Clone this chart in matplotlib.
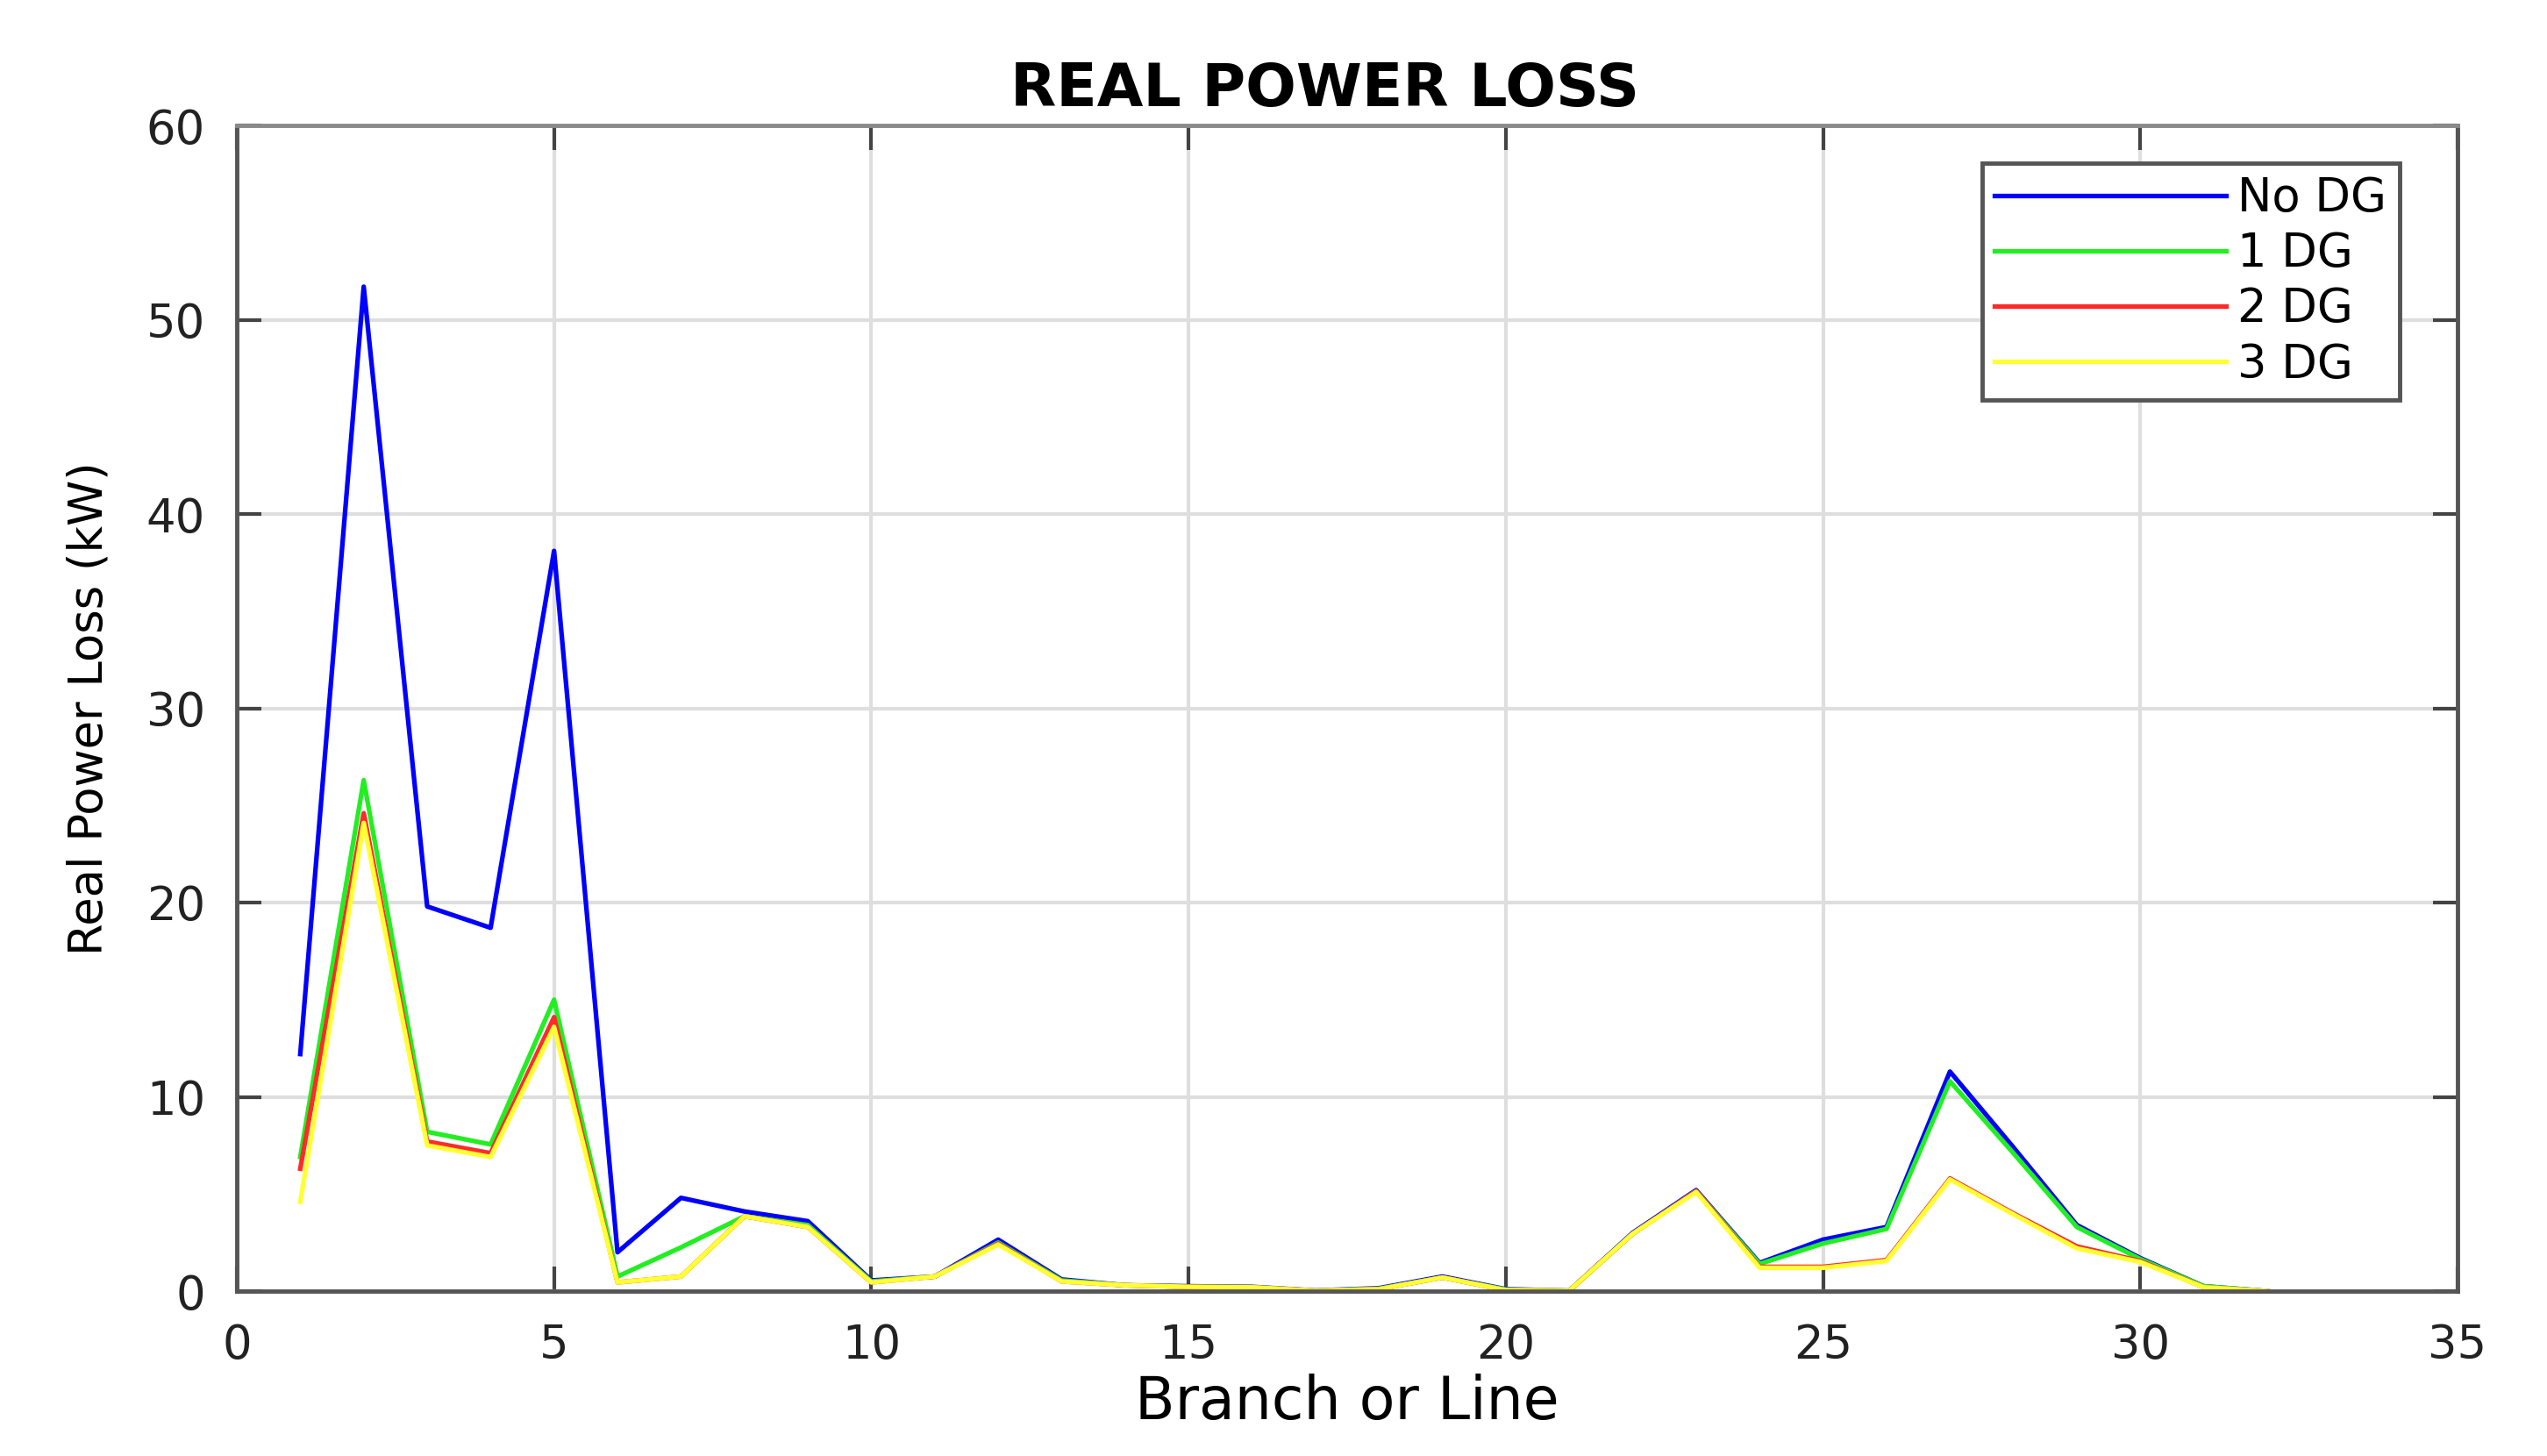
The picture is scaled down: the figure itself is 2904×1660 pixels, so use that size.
import numpy as np
import matplotlib
matplotlib.use("Agg")
import matplotlib.pyplot as plt

# branch numbers and real power loss (kW)
branch = np.arange(1, 33)
no_dg = [12.2, 51.7, 19.8, 18.7, 38.1, 2.0, 4.8, 4.1, 3.6, 0.55, 0.75, 2.65, 0.6, 0.3, 0.25, 0.22,
         0.03, 0.15, 0.75, 0.1, 0.02, 3.0, 5.2, 1.45, 2.65, 3.3, 11.3, 7.4, 3.4, 1.7, 0.25, 0.0]
one_dg = [6.9, 26.3, 8.2, 7.55, 15.0, 0.75, 2.25, 3.85, 3.4, 0.5, 0.75, 2.5, 0.55, 0.3, 0.22, 0.2,
          0.02, 0.12, 0.7, 0.08, 0.02, 2.95, 5.15, 1.4, 2.45, 3.2, 10.8, 7.1, 3.3, 1.65, 0.25, 0.0]
two_dg = [6.3, 24.6, 7.7, 7.1, 14.1, 0.45, 0.75, 3.85, 3.3, 0.45, 0.75, 2.45, 0.5, 0.3, 0.22, 0.2,
          0.02, 0.1, 0.7, 0.05, 0.02, 2.95, 5.15, 1.25, 1.25, 1.6, 5.8, 4.0, 2.3, 1.55, 0.2, 0.0]
three_dg = [4.6, 24.1, 7.5, 6.9, 13.6, 0.45, 0.75, 3.85, 3.3, 0.45, 0.75, 2.4, 0.5, 0.3, 0.22, 0.2,
            0.02, 0.1, 0.7, 0.05, 0.02, 2.95, 5.1, 1.2, 1.2, 1.55, 5.75, 3.95, 2.2, 1.5, 0.2, 0.0]

series = [("No DG", no_dg, "#0000ff"),
          ("1 DG", one_dg, "#22ee22"),
          ("2 DG", two_dg, "#ff2a2a"),
          ("3 DG", three_dg, "#ffff33")]

plt.rcParams["font.family"] = ["DejaVu Sans"]

fig = plt.figure(figsize=(29.04, 16.6), dpi=100)
ax = fig.add_axes([270 / 2904, 1 - 1472 / 1660, 2532 / 2904, 1329 / 1660])

for name, vals, col in series:
    ax.plot(branch, vals, color=col, lw=3.8, label=name)

ax.set_xlim(0, 35)
ax.set_ylim(0, 60)
ax.set_xticks(np.arange(0, 36, 5))
ax.set_yticks(np.arange(0, 61, 10))
ax.grid(True, color="#dedede", lw=3)
ax.set_axisbelow(True)

ax.tick_params(direction="in", length=20, width=3, colors="#444444",
               labelsize=38, labelcolor="#222222", top=True, right=True, pad=26)
for s in ax.spines.values():
    s.set_color("#555555")
    s.set_linewidth(3.5)
ax.spines["top"].set_color("#8a8a8a")

ax.set_title("REAL POWER LOSS", fontsize=49, fontweight="bold", pad=16, x=0.49)
ax.set_xlabel("Branch or Line", fontsize=48, labelpad=4)
ax.set_ylabel("Real Power Loss (kW)", fontsize=38, labelpad=28)

leg = ax.legend(loc="upper right", bbox_to_anchor=(0.974, 0.968), borderaxespad=0,
                fontsize=38, handlelength=5.0, handletextpad=0.25, labelspacing=0.21,
                borderpad=0.28, fancybox=False, framealpha=1)
leg.get_frame().set_edgecolor("#555555")
leg.get_frame().set_linewidth(3.5)

fig.savefig("out.png", dpi=100)
